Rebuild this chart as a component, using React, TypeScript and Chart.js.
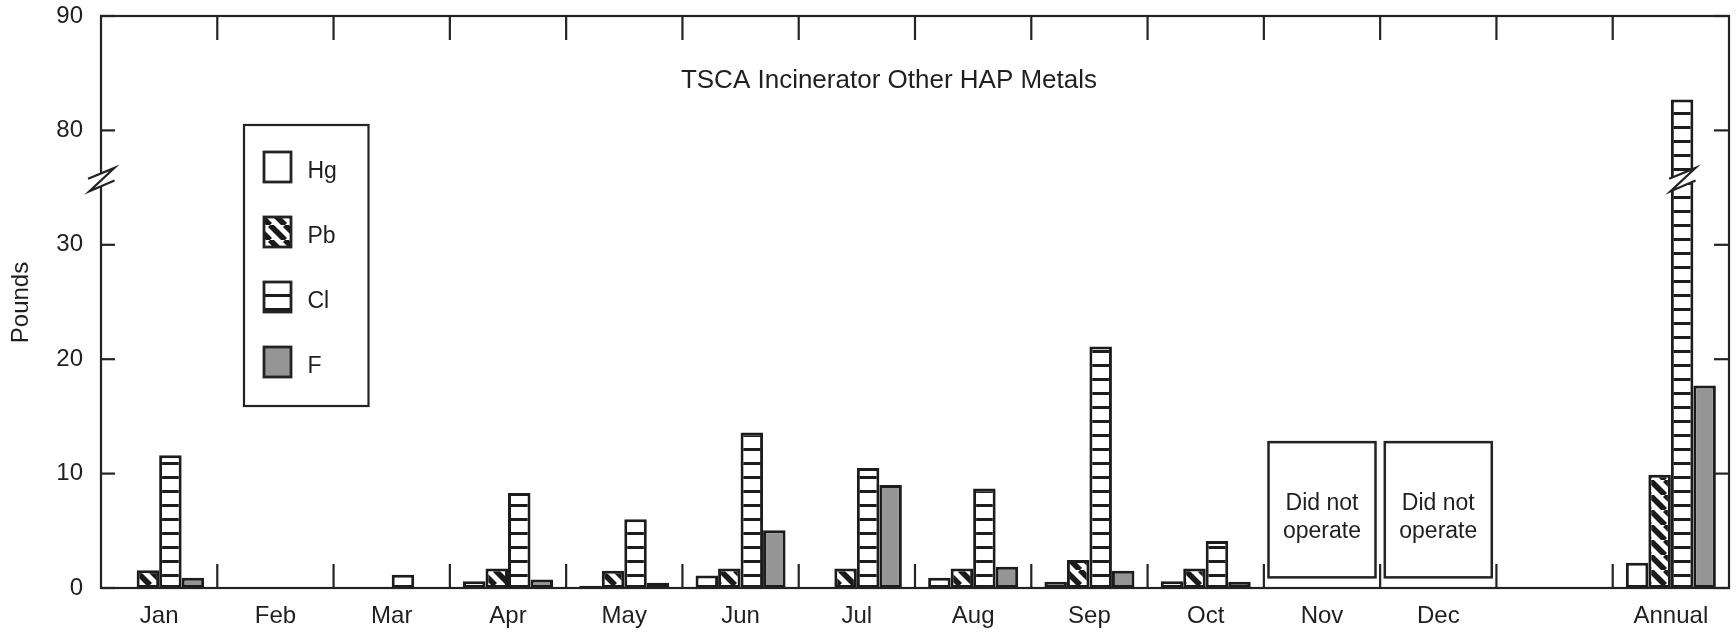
import { useEffect, useRef } from "react";
import { Chart, registerables } from "chart.js";

Chart.register(...registerables);

// Monthly emissions (pounds) per pollutant; blank slot separates the annual total
const categories = ["Jan", "Feb", "Mar", "Apr", "May", "Jun", "Jul", "Aug", "Sep", "Oct", "Nov", "Dec", "", "Annual"];
const hgValues = [0, 0, 0, 0.6, 0.2, 1.1, 0, 0.9, 0.55, 0.6, null, null, null, 2.2];
const pbValues = [1.55, 0, 0, 1.7, 1.5, 1.7, 1.7, 1.7, 2.45, 1.7, null, null, null, 9.9];
const clValues = [11.6, 0, 1.15, 8.3, 6.0, 13.6, 10.5, 8.7, 21.1, 4.1, null, null, null, 82.7];
const fValues = [0.9, 0, 0, 0.75, 0.45, 5.05, 9.0, 1.85, 1.5, 0.55, null, null, null, 17.7];
const seriesNames = ["Hg", "Pb", "Cl", "F"];

const yTickValues = [0, 10, 20, 30, 80, 90];
const notOperatedMonths = ["Nov", "Dec"];
const notOperatedText = ["Did not", "operate"];
const chartTitle = "TSCA Incinerator Other HAP Metals";
const yAxisTitle = "Pounds";

// Broken value axis: everything above the break is shifted down by BREAK_SHIFT
const BREAK_SHIFT = 40;
const BREAK_POSITION = 35.7; // axis units where the break marks sit
const toAxis = (v: number | null) =>
  v == null ? null : v > BREAK_POSITION + BREAK_SHIFT ? v - BREAK_SHIFT : v;
const fromAxis = (a: number) => (a > BREAK_POSITION ? a + BREAK_SHIFT : a);

const FONT = "'Liberation Sans', Arial, Helvetica, sans-serif";
const INK = "#1f1f1f";
const LINE = "#232323";
const GRAY = "#959595";

function makeLinePattern(ctx: CanvasRenderingContext2D) {
  const c = document.createElement("canvas");
  c.width = 8;
  c.height = 14;
  const g = c.getContext("2d")!;
  g.fillStyle = "#ffffff";
  g.fillRect(0, 0, 8, 14);
  g.fillStyle = "#1c1c1c";
  g.fillRect(0, 0, 8, 3);
  return ctx.createPattern(c, "repeat")!;
}

function makeHatchPattern(ctx: CanvasRenderingContext2D) {
  const n = 15;
  const c = document.createElement("canvas");
  c.width = n;
  c.height = n;
  const g = c.getContext("2d")!;
  g.fillStyle = "#ffffff";
  g.fillRect(0, 0, n, n);
  g.strokeStyle = "#1a1a1a";
  g.lineWidth = 5.6;
  for (const k of [-1, 0, 1]) {
    g.beginPath();
    g.moveTo(k * n, 0);
    g.lineTo(k * n + n, n);
    g.stroke();
  }
  return ctx.createPattern(c, "repeat")!;
}

function drawBreak(ctx: CanvasRenderingContext2D, cx: number, cy: number) {
  const a = [cx - 13, cy - 0.8];
  const b = [cx + 13.5, cy - 11.7];
  const c = [cx - 11.5, cy + 11.7];
  const d = [cx + 13.5, cy + 0.8];
  ctx.save();
  ctx.fillStyle = "#ffffff";
  ctx.beginPath();
  ctx.moveTo(a[0], a[1]);
  ctx.lineTo(b[0], b[1]);
  ctx.lineTo(d[0], d[1]);
  ctx.lineTo(c[0], c[1]);
  ctx.closePath();
  ctx.fill();
  ctx.strokeStyle = LINE;
  ctx.lineWidth = 2.2;
  ctx.lineJoin = "miter";
  ctx.beginPath();
  ctx.moveTo(a[0], a[1]);
  ctx.lineTo(b[0], b[1]);
  ctx.lineTo(c[0], c[1]);
  ctx.lineTo(d[0], d[1]);
  ctx.stroke();
  ctx.restore();
}

export default function App() {
  const canvasRef = useRef<HTMLCanvasElement | null>(null);

  useEffect(() => {
    const canvas = canvasRef.current;
    if (!canvas) return;
    const ctx = canvas.getContext("2d")!;
    const fills: (string | CanvasPattern)[] = ["#ffffff", makeHatchPattern(ctx), makeLinePattern(ctx), GRAY];
    const values = [hgValues, pbValues, clValues, fValues];

    const overlay = {
      id: "frameAndNotes",
      afterDraw(chart: any) {
        const { ctx: c, chartArea: area, scales } = chart;
        const x = scales.x;
        const y = scales.y;
        const seg = (x1: number, y1: number, x2: number, y2: number) => {
          c.beginPath();
          c.moveTo(x1, y1);
          c.lineTo(x2, y2);
          c.stroke();
        };
        c.save();
        c.strokeStyle = LINE;
        c.lineWidth = 2.2;
        c.strokeRect(area.left, area.top, area.right - area.left, area.bottom - area.top);

        // value ticks on both sides, pointing inward
        for (const v of yTickValues) {
          const py = y.getPixelForValue(toAxis(v));
          seg(area.left, py, area.left + 14, py);
          seg(area.right - 15, py, area.right, py);
        }
        // category boundary ticks on top and bottom
        for (let i = 0; i < categories.length - 1; i++) {
          const bx = (x.getPixelForValue(i) + x.getPixelForValue(i + 1)) / 2;
          seg(bx, area.top, bx, area.top + 24);
          seg(bx, area.bottom, bx, area.bottom - 24);
        }

        // break marks on the axis and on the bar that crosses it
        const breakY = y.getPixelForValue(BREAK_POSITION);
        drawBreak(c, area.left, breakY);
        const clMeta = chart.getDatasetMeta(2);
        clValues.forEach((v, i) => {
          if (v != null && v > BREAK_POSITION + BREAK_SHIFT) {
            drawBreak(c, clMeta.data[i].x, breakY);
          }
        });

        // months without operation
        const catW = x.getPixelForValue(1) - x.getPixelForValue(0);
        c.font = `23px ${FONT}`;
        c.fillStyle = INK;
        c.textAlign = "center";
        c.textBaseline = "alphabetic";
        c.lineWidth = 2.5;
        for (const m of notOperatedMonths) {
          const idx = categories.indexOf(m);
          const cx = x.getPixelForValue(idx);
          const w = catW * 0.92;
          const top = y.getPixelForValue(12.75);
          const bottom = y.getPixelForValue(0.93);
          c.strokeRect(cx - w / 2, top, w, bottom - top);
          const mid = (top + bottom) / 2;
          c.fillText(notOperatedText[0], cx, mid);
          c.fillText(notOperatedText[1], cx, mid + 28);
        }

        // title
        c.font = `26px ${FONT}`;
        c.fillText(chartTitle, area.left + 0.484 * (area.right - area.left), area.top + 72);

        // legend
        const lx = area.left + 143;
        const ly = area.top + 109;
        c.lineWidth = 2.2;
        c.strokeRect(lx, ly, 124.5, 281);
        c.font = `23px ${FONT}`;
        c.textAlign = "left";
        seriesNames.forEach((name, i) => {
          const sy = ly + 27 + i * 65;
          c.fillStyle = fills[i];
          c.fillRect(lx + 20, sy, 27, 30);
          c.lineWidth = 2.8;
          c.strokeRect(lx + 20, sy, 27, 30);
          c.fillStyle = INK;
          c.fillText(name, lx + 63.5, sy + 15 + 11.2);
        });

        // value axis title
        c.save();
        c.translate(area.left - 79.5, 302.5);
        c.rotate(-Math.PI / 2);
        c.font = `24px ${FONT}`;
        c.textAlign = "center";
        c.textBaseline = "middle";
        c.fillText(yAxisTitle, 0, 0);
        c.restore();

        c.restore();
      },
    };

    const chart = new Chart(canvas, {
      type: "bar",
      data: {
        labels: categories,
        datasets: seriesNames.map((name, i) => ({
          label: name,
          data: values[i].map(toAxis),
          backgroundColor: fills[i],
          borderColor: "#1c1c1c",
          borderWidth: 3,
          borderSkipped: false,
          categoryPercentage: 0.774,
          barPercentage: 1,
        })),
      },
      options: {
        responsive: false,
        animation: false,
        events: [],
        layout: { padding: { top: 16, right: 7, left: 0, bottom: 0 } },
        plugins: {
          legend: { display: false },
          tooltip: { enabled: false },
          title: { display: false },
        },
        scales: {
          x: {
            grid: { display: false, drawTicks: false },
            border: { display: false },
            ticks: {
              font: { family: FONT, size: 24 },
              color: INK,
              padding: 14,
              autoSkip: false,
              maxRotation: 0,
            },
            afterFit: (s: any) => {
              s.height = 46;
              s.paddingLeft = 0;
              s.paddingRight = 0;
            },
          },
          y: {
            min: 0,
            max: 50,
            grid: { display: false, drawTicks: false },
            border: { display: false },
            ticks: {
              font: { family: FONT, size: 24 },
              color: INK,
              padding: 18,
              callback: (v: any) => String(fromAxis(Number(v))),
            },
            afterBuildTicks: (s: any) => {
              s.ticks = yTickValues.map((v) => ({ value: toAxis(v) }));
            },
            afterFit: (s: any) => {
              s.width = 101;
              s.paddingTop = 0;
              s.paddingBottom = 0;
            },
          },
        },
      } as any,
      plugins: [overlay],
    });

    return () => chart.destroy();
  }, []);

  return (
    <div style={{ position: "absolute", left: 0, top: 0, width: 1736, height: 634, background: "#ffffff" }}>
      <canvas ref={canvasRef} width={1736} height={634} style={{ display: "block" }} />
    </div>
  );
}
